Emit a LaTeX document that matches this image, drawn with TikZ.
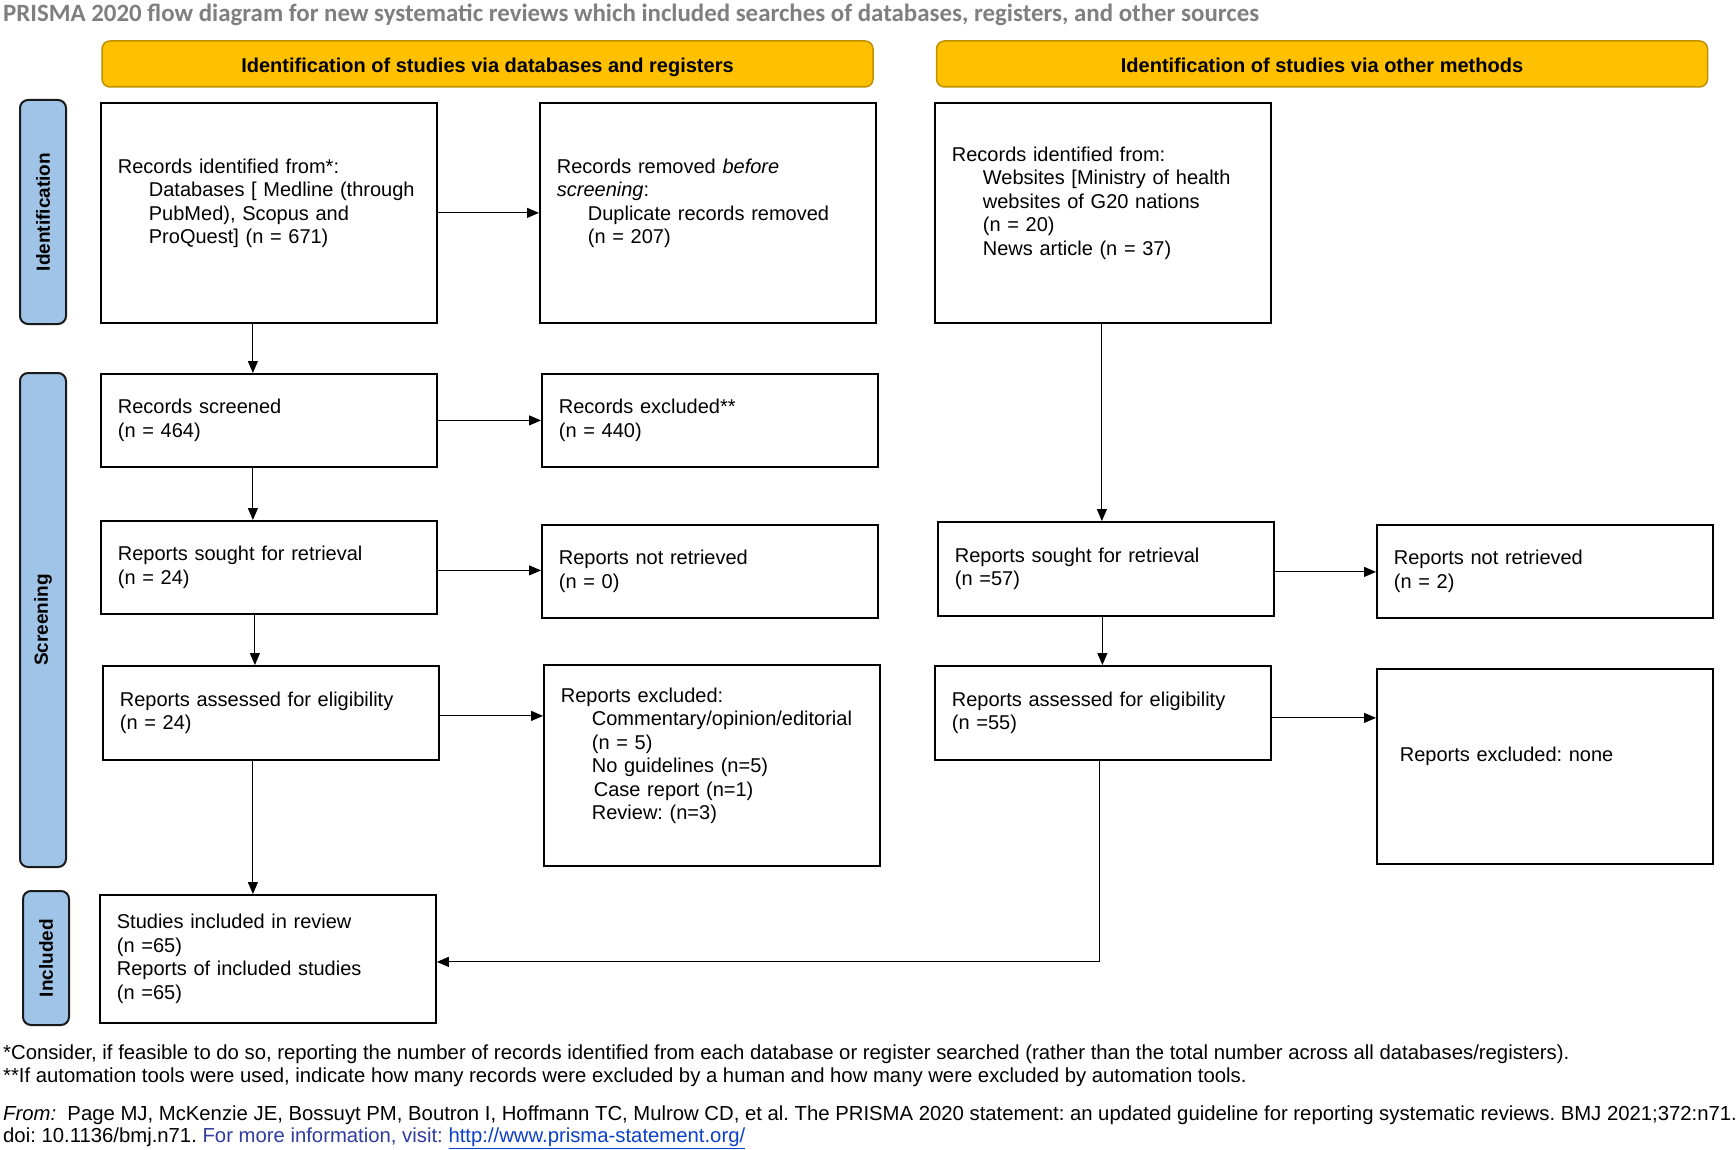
\documentclass[tikz,border=0pt]{standalone}
\usepackage{fontspec}
\setmainfont{Liberation Sans}
\newfontfamily\titlefont{Carlito}
\usetikzlibrary{arrows.meta,calc}
\definecolor{hdrfill}{HTML}{FFC000}
\definecolor{hdrdraw}{HTML}{BF9000}
\definecolor{sidefill}{HTML}{A0C4E8}
\definecolor{sidedraw}{HTML}{1A1A1A}
\definecolor{titlegray}{HTML}{7F7F7F}
\definecolor{infoblue}{HTML}{2F3C9E}
\definecolor{linkblue}{HTML}{0B40C8}
\newcommand{\myind}{\hspace*{31pt}}
\begin{document}
\frenchspacing
\begin{tikzpicture}[x=1pt,y=-1pt,
  box/.style={draw=black, line width=1.8pt, fill=white, align=left,
    inner xsep=17pt, inner ysep=0pt, text width=302pt, minimum width=336pt,
    font=\fontsize{20}{23.5}\selectfont, anchor=north west},
  hdr/.style={draw=hdrdraw, fill=hdrfill, line width=1.5pt, rounded corners=8pt,
    minimum width=771pt, minimum height=46pt, inner sep=0pt,
    font=\bfseries\fontsize{20}{24}\selectfont},
  side/.style={draw=sidedraw, fill=sidefill, line width=2pt, rounded corners=8pt,
    minimum height=46pt, inner sep=0pt, rotate=90,
    font=\bfseries\fontsize{19}{22}\selectfont},
  arr/.style={line width=1pt, -{Triangle[length=12pt,width=10pt]}},
  foot/.style={anchor=west, inner sep=0pt, font=\fontsize{20.3}{23}\selectfont}]
\useasboundingbox (0,0) rectangle (1736,1150);
\fill[white] (0,0) rectangle (1736,1150);

% title
\node[anchor=west, inner sep=0pt, text=titlegray,
  font=\titlefont\bfseries\fontsize{24.9}{29}\selectfont] (title) at (3,15)
  {PRISMA 2020 flow diagram for new systematic reviews which included searches of databases, registers, and other sources};

% headers
\node[hdr] (h1) at (487.5,64) {\raisebox{-8.4pt}[0pt][0pt]{Identification of studies via databases and registers}};
\node[hdr] (h2) at (1322,64) {\raisebox{-8.4pt}[0pt][0pt]{Identification of studies via other methods}};

% side bars
\node[side, minimum width=224pt] (s1) at (43,212) {Identification};
\node[side, minimum width=494pt] (s2) at (43,620) {Screening};
\node[side, minimum width=134pt] (s3) at (46,958) {Included};

% left column
\node[box, minimum height=220pt] (A) at (100,102)
  {Records identified from*:\\
   \myind Databases [ Medline (through\\
   \myind PubMed), Scopus and\\
   \myind ProQuest] (n = 671)\\
   \mbox{}};
\node[box, minimum height=220pt] (B) at (539,102)
  {Records removed \textit{before}\\
   \textit{screening}:\\
   \myind Duplicate records removed\\
   \myind (n = 207)\\
   \mbox{}};
\node[box, minimum height=93pt] (D) at (100,373)
  {Records screened\\(n = 464)};
\node[box, minimum height=93pt] (E) at (541,373)
  {Records excluded**\\(n = 440)};
\node[box, minimum height=93pt] (F) at (100,520)
  {Reports sought for retrieval\\(n = 24)};
\node[box, minimum height=93pt] (G) at (541,524)
  {Reports not retrieved\\(n = 0)};
\node[box, minimum height=94pt] (J) at (102,665)
  {Reports assessed for eligibility\\(n = 24)};
\node[box, minimum height=201pt] (K) at (543,664)
  {Reports excluded:\\
   \myind Commentary/opinion/editorial\\
   \myind (n = 5)\\
   \myind No guidelines (n=5)\\
   \myind\hspace*{2pt}Case report (n=1)\\
   \myind Review: (n=3)\\
   \mbox{}};
\node[box, minimum height=128pt] (N) at (99,894)
  {Studies included in review\\
   (n =65)\\
   Reports of included studies\\
   (n =65)};

% right column
\node[box, minimum height=220pt] (C) at (934,102)
  {Records identified from:\\
   \myind Websites [Ministry of health\\
   \myind websites of G20 nations\\
   \myind (n = 20)\\
   \myind News article (n = 37)\\
   \mbox{}};
\node[box, minimum height=94pt] (H) at (937,521)
  {Reports sought for retrieval\\(n =57)};
\node[box, minimum height=93pt] (I) at (1376,524)
  {Reports not retrieved\\(n = 2)};
\node[box, minimum height=94pt] (L) at (934,665)
  {Reports assessed for eligibility\\(n =55)};
\node[box, minimum height=195pt] (M) at (1376,668)
  {\hspace*{6pt}Reports excluded: none\\
   \mbox{}};

% connectors left
\draw[arr] (A.east) -- (B.west);
\draw[arr] ([xshift=-16pt]A.south) -- ([xshift=-16pt]A.south |- D.north);
\draw[arr] (D.east) -- (E.west);
\draw[arr] ([xshift=-16pt]D.south) -- ([xshift=-16pt]D.south |- F.north);
\draw[arr] ([yshift=-3pt]F.east) -- ([yshift=-3pt]F.east -| G.west);
\draw[arr] ([xshift=-14pt]F.south) -- ([xshift=-14pt]F.south |- J.north);
\draw[arr] ([yshift=-3pt]J.east) -- ([yshift=-3pt]J.east -| K.west);
\draw[arr] ([xshift=-18pt]J.south) -- ([xshift=-18pt]J.south |- N.north);

% connectors right
\draw[arr] ([xshift=-1pt]C.south) -- ([xshift=-1pt]C.south |- H.north);
\draw[arr] ([yshift=-3pt]H.east) -- ([yshift=-3pt]H.east -| I.west);
\draw[arr] ([xshift=-3.5pt]H.south) -- ([xshift=-3.5pt]H.south |- L.north);
\draw[arr] ([yshift=-5pt]L.east) -- ([yshift=-5pt]L.east -| M.west);
\draw[arr] ([xshift=-3pt]L.south) |- ([yshift=-3pt]N.east);

% footnotes
\node[foot] (f1) at (3,1054) {*Consider, if feasible to do so, reporting the number of records identified from each database or register searched (rather than the total number across all databases/registers).};
\node[foot] (f2) at (3,1077) {**If automation tools were used, indicate how many records were excluded by a human and how many were excluded by automation tools.};
\node[foot] (f3) at (3,1115) {\textit{From:}\ \ Page MJ, McKenzie JE, Bossuyt PM, Boutron I, Hoffmann TC, Mulrow CD, et al. The PRISMA 2020 statement: an updated guideline for reporting systematic reviews. BMJ 2021;372:n71.};
\node[foot] (f4) at (3,1138) {doi: 10.1136/bmj.n71. \textcolor{infoblue}{For more information, visit:} \textcolor{linkblue}{\underline{http://www.prisma-statement.org/}}};
\end{tikzpicture}
\end{document}
